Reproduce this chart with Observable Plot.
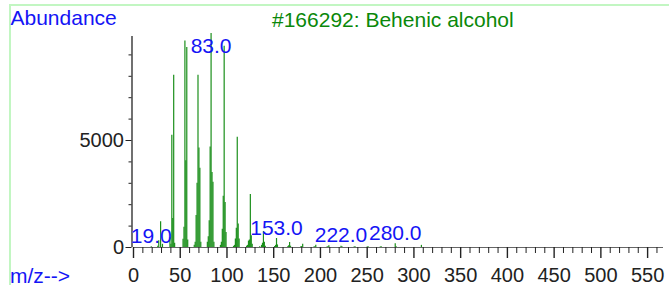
<!DOCTYPE html>
<html>
<head>
<meta charset="utf-8">
<script src="https://cdn.jsdelivr.net/npm/d3@7"></script>
<script src="https://cdn.jsdelivr.net/npm/@observablehq/plot@0.6"></script>
<style>
  html, body { margin: 0; padding: 0; background: white; }
  #wrap { position: relative; width: 669px; height: 285px; overflow: hidden; font-family: "Liberation Sans", Arial, sans-serif; }
  .t { position: absolute; white-space: nowrap; line-height: 1; font-size: 21px; }
  #frame { position: absolute; left: 9px; top: 4px; right: 0; bottom: 0; border-top: 2px solid #c2f6c2; border-left: 2px solid #c2f6c2; pointer-events: none; }
</style>
</head>
<body>
<div id="wrap">
  <div id="chart"></div>
  <div id="frame"></div>
  <div class="t" style="left:10.5px; top:7.2px; color:#1414f5;">Abundance</div>
  <div class="t" style="left:272px; top:8.9px; color:#0a880a;">#166292: Behenic alcohol</div>
  <div class="t" style="left:10px; top:267.5px; line-height:16px; color:#1414f5;">m/z--&gt;</div>
</div>
<script>
// m/z values and abundances
const mz = [19, 26, 27, 29, 31, 39, 40, 41, 42, 43, 44, 53, 54, 55, 56, 57, 58,
  65, 66, 67, 68, 69, 70, 71, 72, 79, 80, 81, 82, 83, 84, 85, 86,
  93, 94, 95, 96, 97, 98, 99, 107, 108, 109, 110, 111, 112, 113,
  121, 122, 123, 124, 125, 126, 127, 135, 137, 138, 139, 140, 141,
  151, 152, 153, 154, 165, 166, 167, 168, 179, 180, 181, 193, 194, 195,
  207, 208, 209, 222, 223, 236, 237, 250, 251, 264, 265, 280, 281, 308];
const abundance = [30, 60, 320, 1200, 150, 450, 150, 5250, 1350, 8050, 200, 380, 950, 9650, 4050, 9350, 350,
  100, 250, 1500, 3000, 8050, 4650, 3700, 250, 250, 500, 1250, 4700, 9999, 3500, 3050, 250,
  100, 250, 850, 2400, 9400, 2100, 700, 50, 100, 400, 900, 5150, 1100, 400,
  60, 100, 300, 350, 2480, 550, 150, 40, 100, 200, 750, 250, 60,
  50, 100, 420, 120, 40, 80, 230, 60, 30, 50, 150, 20, 40, 110,
  20, 30, 80, 60, 40, 20, 35, 20, 35, 20, 30, 170, 40, 100];
// labelled peaks
const labelMz = [19, 83, 153, 222, 280];
// axis ticks
const xMajorTicks = [0, 50, 100, 150, 200, 250, 300, 350, 400, 450, 500, 550];
const xMinorTicks = d3.range(0, 561, 10).filter(v => v % 50 !== 0);
const yMajorTicks = [0, 5000];
const yMinorTicks = [1000, 2000, 3000, 4000, 6000, 7000, 8000, 9000];

const peaks = mz.map((m, i) => ({mz: m, ab: abundance[i]}));
const labels = labelMz.map(m => {
  const p = peaks.find(d => d.mz === m);
  return {mz: m, ab: p ? p.ab : 0, text: m.toFixed(1)};
});

const chart = Plot.plot({
  width: 669,
  height: 285,
  marginLeft: 133,
  marginRight: 6,
  marginTop: 36,
  marginBottom: 38,
  style: {fontFamily: "Liberation Sans, Arial, sans-serif", fontSize: "20px", background: "transparent", color: "#222"},
  x: {domain: [0, 567]},
  y: {domain: [0, 9860]},
  marks: [
    Plot.ruleX(peaks, {x: "mz", y1: 0, y2: "ab", stroke: "#1b8f1b", strokeWidth: 1.2}),
    Plot.ruleY([0], {stroke: "#666", strokeWidth: 1.2}),
    Plot.ruleX([0], {y1: 0, y2: 9860, stroke: "#111", strokeWidth: 1.2, dx: -1.5}),
    Plot.axisX({ticks: xMajorTicks, tickSize: 11, tickPadding: 9, label: null, tickFormat: d => String(d), strokeWidth: 1.4}),
    Plot.axisX({ticks: xMinorTicks, tickSize: 6, label: null, tickFormat: () => "", strokeWidth: 1}),
    Plot.axisY({ticks: yMajorTicks, tickSize: 6, tickPadding: 2, label: null, tickFormat: d => String(d), dx: -1.5}),
    Plot.axisY({ticks: yMinorTicks, tickSize: 3, label: null, tickFormat: () => "", dx: -1.5}),
    Plot.text(labels, {x: "mz", y: d => Math.min(d.ab, 8900), text: "text", dy: -4, lineAnchor: "bottom", textAnchor: "middle", fill: "#1414f5", fontSize: 21})
  ]
});
document.getElementById("chart").appendChild(chart);
</script>
</body>
</html>
